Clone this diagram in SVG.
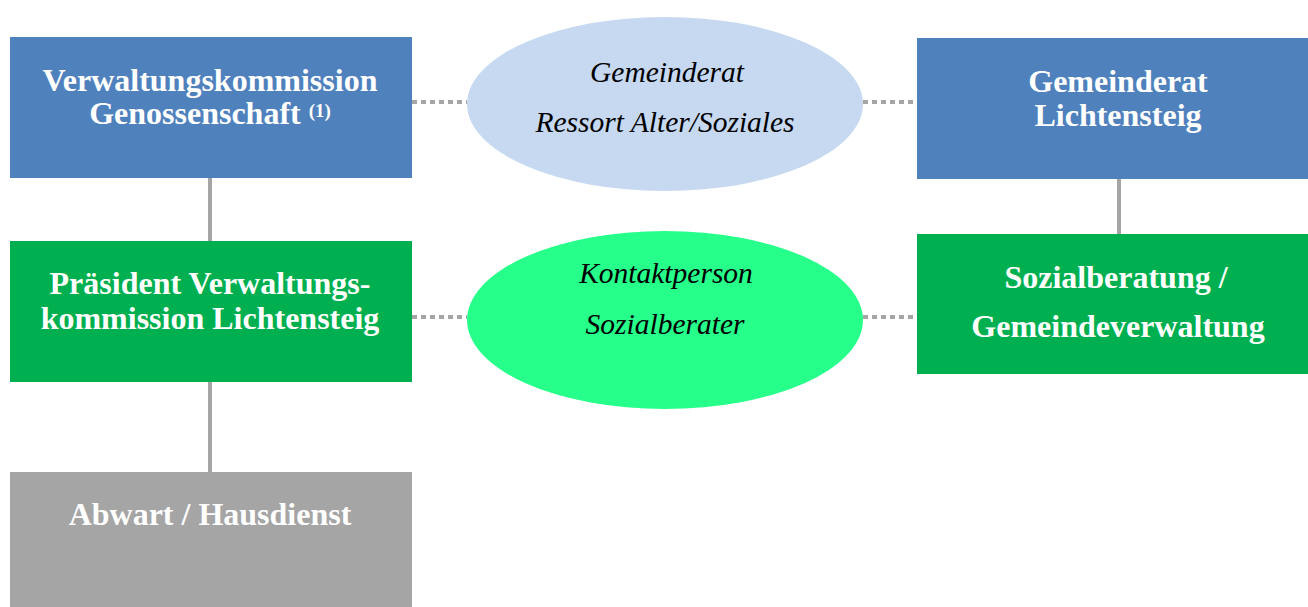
<svg xmlns="http://www.w3.org/2000/svg" width="1308" height="607" viewBox="0 0 1308 607">
<style>
.lbl{font-family:"Liberation Serif","Times New Roman",serif;font-weight:bold;font-size:32px;fill:#FFFFFF;text-anchor:middle}
.it{font-family:"Liberation Serif","Times New Roman",serif;font-style:italic;font-size:29.5px;fill:#000000;text-anchor:middle}
.solid{stroke:#A5A5A5;stroke-width:4;fill:none}
.dot{stroke:#A5A5A5;stroke-width:4;fill:none;stroke-dasharray:5 4}
</style>
<rect width="1308" height="607" fill="#FFFFFF"/>
<g id="connectors">
<line class="solid" x1="210" y1="178" x2="210" y2="241"/>
<line class="solid" x1="210" y1="382" x2="210" y2="472"/>
<line class="solid" x1="1119" y1="179" x2="1119" y2="234"/>
<line class="dot" x1="412" y1="102" x2="467" y2="102"/>
<line class="dot" x1="863" y1="102" x2="917" y2="102"/>
<line class="dot" x1="412" y1="317" x2="467" y2="317"/>
<line class="dot" x1="863" y1="317" x2="917" y2="317"/>
</g>
<g id="verwaltungskommission">
<rect x="10" y="37" width="402" height="141" fill="#4F81BD"/>
<text class="lbl" x="210" y="91">Verwaltungskommission</text>
<text class="lbl" x="210" y="124">Genossenschaft <tspan font-size="19" dy="-7">(1)</tspan></text>
</g>
<g id="gemeinderat-ressort">
<ellipse cx="665" cy="104" rx="198" ry="87" fill="#C6D9F1"/>
<text class="it" x="667" y="82">Gemeinderat</text>
<text class="it" x="665" y="132">Ressort Alter/Soziales</text>
</g>
<g id="gemeinderat-lichtensteig">
<rect x="917" y="38" width="391" height="141" fill="#4F81BD"/>
<text class="lbl" x="1118" y="92">Gemeinderat</text>
<text class="lbl" x="1118" y="126">Lichtensteig</text>
</g>
<g id="praesident">
<rect x="10" y="241" width="402" height="141" fill="#00B050"/>
<text class="lbl" x="210" y="294">Präsident Verwaltungs-</text>
<text class="lbl" x="210" y="329">kommission Lichtensteig</text>
</g>
<g id="kontaktperson">
<ellipse cx="665" cy="320" rx="198" ry="89" fill="#26FF8A"/>
<text class="it" x="666" y="283">Kontaktperson</text>
<text class="it" x="665" y="334">Sozialberater</text>
</g>
<g id="sozialberatung">
<rect x="917" y="234" width="391" height="140" fill="#00B050"/>
<text class="lbl" x="1116" y="288">Sozialberatung /</text>
<text class="lbl" x="1118" y="337">Gemeindeverwaltung</text>
</g>
<g id="abwart">
<rect x="10" y="472" width="402" height="135" fill="#A5A5A5"/>
<text class="lbl" x="210" y="525">Abwart / Hausdienst</text>
</g>
</svg>
